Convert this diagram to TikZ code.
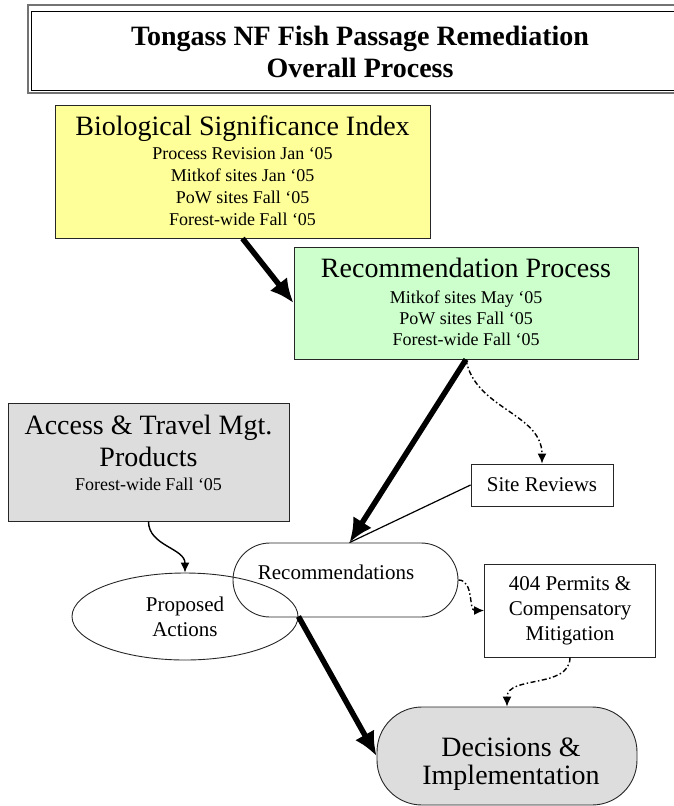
\documentclass[tikz,border=0pt]{standalone}
\usepackage{fontspec}
\setmainfont{Liberation Serif}
\usetikzlibrary{arrows.meta,shapes.geometric}

\definecolor{bsiyellow}{HTML}{FFFF99}
\definecolor{recgreen}{HTML}{CCFFCC}
\definecolor{atmgray}{HTML}{DDDDDD}

\begin{document}
\begin{tikzpicture}[x=1pt, y=-1pt,
  box/.style={draw=black!85, line width=0.9pt, inner sep=0pt},
  big/.style={font=\fontsize{28}{32}\selectfont, inner sep=0pt},
  small/.style={font=\fontsize{18}{22}\selectfont, inner sep=0pt, align=center},
  mid/.style={font=\fontsize{21}{25}\selectfont, align=center},
  heavy/.style={line width=5.5pt, -{Latex[length=24pt, width=22pt]}},
  dashdot/.style={line width=1.4pt, dash pattern=on 5pt off 2.5pt on 1.5pt off 2.5pt, -{Latex[length=10pt, width=9pt]}},
  curvy/.style={line width=1.4pt, -{Latex[length=10pt, width=9pt]}},
  thin/.style={line width=1.2pt}]
  \useasboundingbox (0,0) rectangle (673,806);
  \draw [black!55, line width=1.6pt] (28,5) rectangle (720,93);
  \draw [line width=0.8pt] (31,11) rectangle (715,90);
  \node [font=\bfseries\fontsize{28}{32}\selectfont, align=center, inner sep=0pt] (title) at (360,51.5) {Tongass NF Fish Passage Remediation\\Overall Process};

  \node [box, fill=bsiyellow, minimum width=375pt, minimum height=133pt] (bsi) at (242.5,171.5) {};
  \node [big, anchor=base] (bsi-head) at (242.5,135) {Biological Significance Index};
  \node [small] (bsi-dates) at (242.5,187) {Process Revision Jan ‘05\\Mitkof sites Jan ‘05\\PoW sites Fall ‘05\\Forest-wide Fall ‘05};

  \node [box, fill=recgreen, minimum width=344pt, minimum height=112pt] (rp) at (466,303) {};
  \node [big, anchor=base] (rp-head) at (466,277) {Recommendation Process};
  \node [small, font=\fontsize{18}{21}\selectfont] (rp-dates) at (466,318) {Mitkof sites May ‘05\\PoW sites Fall ‘05\\Forest-wide Fall ‘05};

  \node [box, fill=atmgray, minimum width=281pt, minimum height=118pt] (atm) at (148.5,462) {};
  \node [big, align=center] (atm-head) at (148.5,440.5) {Access \& Travel Mgt.\\Products};
  \node [small, anchor=base] (atm-dates) at (148.5,490) {Forest-wide Fall ‘05};

  \node [box, mid, minimum width=142pt, minimum height=42pt] (sr) at (542,485) {Site Reviews};
  \node [box, rounded corners=37pt, minimum width=225pt, minimum height=74pt] (recs) at (345.5,580) {};
  \node [mid, anchor=base, inner sep=0pt] (recs-text) at (336,579) {Recommendations};
  \node [box, mid, ellipse, minimum width=226pt, minimum height=87pt] (pa) at (185,616.5) {Proposed\\Actions};
  \node [box, mid, minimum width=171pt, minimum height=93pt] (permits) at (570,610.5) {404 Permits \&\\Compensatory\\Mitigation};
  \node [box, fill=atmgray, rounded corners=45pt, minimum width=260pt, minimum height=98pt] (dec) at (507,756) {};
  \node [big, align=center, font=\fontsize{28}{28}\selectfont] (dec-text) at (511,764.5) {Decisions \&\\Implementation};

  \draw [heavy] (bsi.south) -- (rp.west);
  \draw [heavy] (rp.south) -- ([xshift=4pt]recs.north);
  \draw [dashdot] (rp.south) to [out=-80, in=90] (sr.north);
  \draw [thin] (sr.west) -- ([xshift=4pt]recs.north);
  \draw [curvy] (atm.south) to [out=-90, in=90] (pa.north);
  \draw [dashdot] (recs.east) to [out=0, in=180] (permits.west);
  \draw [dashdot] (permits.south) to [out=-90, in=90] (dec.north);
  \draw [heavy] (pa.east) -- (dec.west);
\end{tikzpicture}
\end{document}
